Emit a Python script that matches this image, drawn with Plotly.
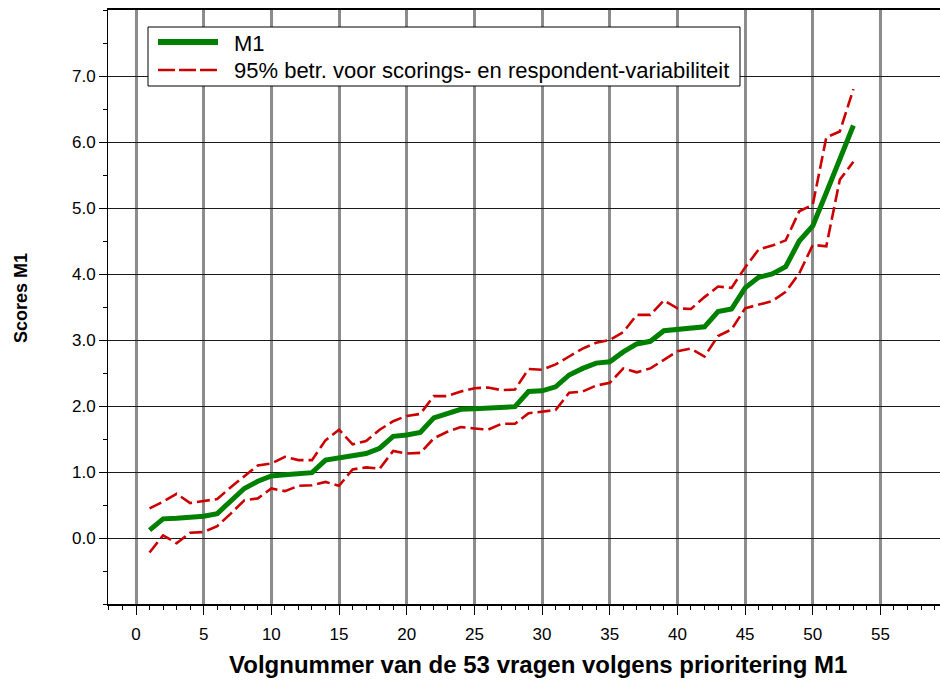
import plotly.graph_objects as go

volgnummer = list(range(1, 54))
m1 = [0.12, 0.29, 0.30, 0.31, 0.33, 0.37, 0.57, 0.75, 0.86, 0.94,
      0.96, 0.98, 0.99, 1.18, 1.21, 1.24, 1.28, 1.36, 1.54, 1.56,
      1.60, 1.82, 1.89, 1.95, 1.96, 1.97, 1.98, 1.99, 2.22, 2.23,
      2.29, 2.47, 2.57, 2.65, 2.67, 2.82, 2.94, 2.98, 3.14, 3.16,
      3.18, 3.20, 3.43, 3.47, 3.79, 3.95, 4.00, 4.11, 4.50, 4.73,
      5.23, 5.74, 6.25]
upper = [0.45, 0.55, 0.67, 0.53, 0.56, 0.59, 0.77, 0.94, 1.10, 1.13,
         1.23, 1.18, 1.18, 1.48, 1.64, 1.42, 1.47, 1.64, 1.77, 1.85,
         1.88, 2.15, 2.15, 2.22, 2.27, 2.28, 2.24, 2.25, 2.56, 2.55,
         2.63, 2.75, 2.87, 2.96, 3.00, 3.12, 3.38, 3.38, 3.60, 3.48,
         3.47, 3.65, 3.81, 3.79, 4.10, 4.37, 4.43, 4.51, 4.95, 5.05,
         6.07, 6.16, 6.80]
lower = [-0.22, 0.04, -0.08, 0.08, 0.09, 0.18, 0.37, 0.57, 0.60, 0.75,
         0.71, 0.79, 0.80, 0.85, 0.79, 1.04, 1.07, 1.05, 1.32, 1.28,
         1.29, 1.51, 1.61, 1.68, 1.66, 1.64, 1.73, 1.73, 1.89, 1.91,
         1.94, 2.20, 2.22, 2.31, 2.35, 2.57, 2.51, 2.57, 2.70, 2.83,
         2.87, 2.75, 3.06, 3.16, 3.48, 3.53, 3.59, 3.73, 4.01, 4.44,
         4.42, 5.43, 5.70]

x_ticks = list(range(0, 60, 5))
y_ticks = list(range(0, 8))
y_ticktext = [f"{v:.1f}" for v in y_ticks]

series_names = ["M1", "95% betr. voor scorings- en respondent-variabiliteit"]
x_title = "Volgnummer van de 53 vragen volgens prioritering M1"
y_title = "Scores M1"

RED = "#CC0000"
GREEN = "#008000"
FONT = "Liberation Sans, Arial, sans-serif"

fig = go.Figure()
dash = "13px,5px"
fig.add_trace(go.Scatter(x=volgnummer, y=upper, mode="lines",
                         line=dict(color=RED, width=2.6, dash=dash),
                         showlegend=False, hoverinfo="skip"))
fig.add_trace(go.Scatter(x=volgnummer, y=lower, mode="lines",
                         line=dict(color=RED, width=2.6, dash=dash),
                         showlegend=False, hoverinfo="skip"))
fig.add_trace(go.Scatter(x=volgnummer, y=m1, mode="lines",
                         line=dict(color=GREEN, width=5),
                         showlegend=False))

# plot area in pixels: left 108, right 940, top 10, bottom 604
L, R, T, B = 108, 940, 10, 604
W, H = R - L, B - T


def px(xp):
    return (xp - L) / W


def py(yp):
    return (B - yp) / H


shapes = [
    dict(type="rect", xref="paper", yref="paper",
         x0=px(148), x1=px(740), y0=py(86), y1=py(27),
         line=dict(color="black", width=1), fillcolor="white", layer="above"),
    dict(type="line", xref="paper", yref="paper",
         x0=px(158), x1=px(218), y0=py(42), y1=py(42),
         line=dict(color=GREEN, width=6), layer="above"),
    dict(type="line", xref="paper", yref="paper",
         x0=px(158), x1=px(218), y0=py(70), y1=py(70),
         line=dict(color=RED, width=2.6, dash="17px,4px"), layer="above"),
]
annotations = [
    dict(xref="paper", yref="paper", x=px(232), y=py(43), text=series_names[0],
         showarrow=False, xanchor="left", yanchor="middle",
         font=dict(family=FONT, size=22, color="black")),
    dict(xref="paper", yref="paper", x=px(232), y=py(70), text=series_names[1],
         showarrow=False, xanchor="left", yanchor="middle",
         font=dict(family=FONT, size=22, color="black")),
    dict(xref="paper", yref="paper", x=px(538), y=py(664), text="<b>" + x_title + "</b>",
         showarrow=False, xanchor="center", yanchor="middle",
         font=dict(family=FONT, size=24, color="black")),
    dict(xref="paper", yref="paper", x=px(21), y=py(298), text="<b>" + y_title + "</b>",
         showarrow=False, xanchor="center", yanchor="middle", textangle=-90,
         font=dict(family=FONT, size=18, color="black")),
]

fig.update_layout(
    width=940, height=682,
    margin=dict(l=L, r=940 - R, t=T, b=682 - B, pad=0, autoexpand=False),
    paper_bgcolor="white", plot_bgcolor="white",
    font=dict(family=FONT, size=17, color="black"),
    shapes=shapes, annotations=annotations,
    showlegend=False,
)
fig.update_xaxes(
    range=[-2.07, 59.4], automargin=False,
    tickmode="array", tickvals=x_ticks,
    ticks="outside", ticklen=9, tickcolor="black", tickwidth=1,
    ticklabelstandoff=5,
    showgrid=True, gridcolor="#8c8c8c", gridwidth=3,
    showline=True, linecolor="black", linewidth=2, mirror=True,
    zeroline=False,
    minor=dict(dtick=1, tick0=0, ticks="outside", ticklen=4,
               tickcolor="black", showgrid=False),
    tickfont=dict(size=17),
)
fig.update_yaxes(
    range=[-1, 8], automargin=False,
    tickmode="array", tickvals=y_ticks, ticktext=y_ticktext,
    ticks="outside", ticklen=8, tickcolor="black", tickwidth=1,
    showgrid=True, gridcolor="#1a1a1a", gridwidth=1,
    showline=True, linecolor="black", linewidth=1,
    zeroline=False,
    minor=dict(dtick=0.5, tick0=0, ticks="outside", ticklen=4,
               tickcolor="black", showgrid=False),
    tickfont=dict(size=17),
)

fig.write_html(
    "out.html",
    config={"displayModeBar": False},
    post_script="document.body.style.margin='0';document.body.style.overflow='hidden';",
)
